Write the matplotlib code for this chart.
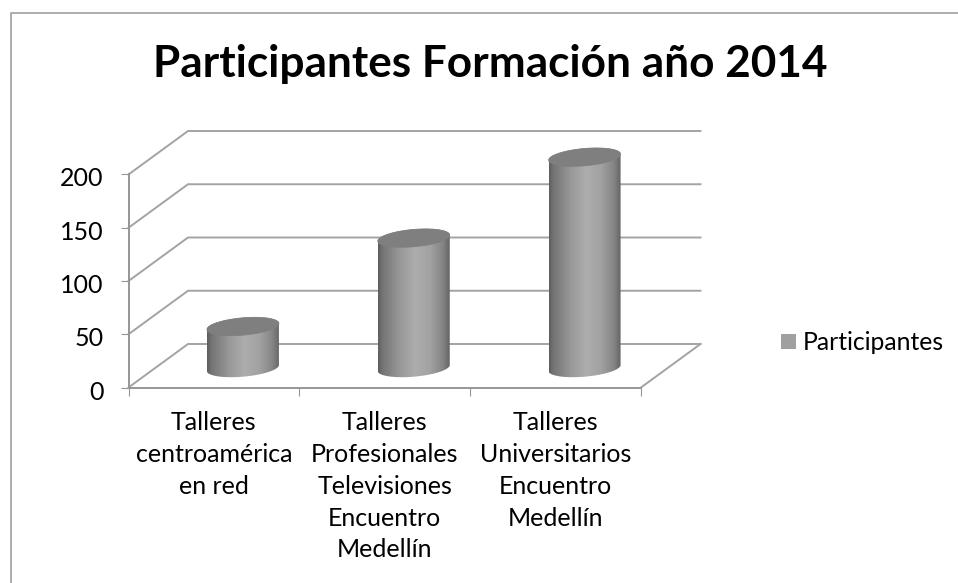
import numpy as np
import matplotlib
matplotlib.use('Agg')
import matplotlib.pyplot as plt
from matplotlib.colors import LinearSegmentedColormap
from matplotlib.lines import Line2D
from matplotlib.patches import PathPatch, Rectangle
from matplotlib.path import Path
from matplotlib.transforms import ScaledTranslation

plt.rcParams['font.family'] = ['Lato', 'DejaVu Sans']

# datos
categories = ['Talleres\ncentroamérica\nen red',
              'Talleres\nProfesionales\nTelevisiones\nEncuentro\nMedellín',
              'Talleres\nUniversitarios\nEncuentro\nMedellín']
participantes = [39, 122, 198]
y_ticks = [0, 50, 100, 150, 200]

W, H = 958, 583
fig = plt.figure(figsize=(W / 100, H / 100), dpi=100)

# marco del grafico (solo arriba e izquierda)
fig.add_artist(Line2D([10.5 / W, 10.5 / W, 1], [0, 1 - 12.5 / H, 1 - 12.5 / H],
                      transform=fig.transFigure, color='#a0a0a0', lw=1.2))

# plano frontal en pixeles
x0, x1, y0, y1 = 128.5, 641, 387.5, 174.5
ax = fig.add_axes([x0 / W, 1 - y0 / H, (x1 - x0) / W, (y0 - y1) / H])
ax.set_xlim(0, 3)
ax.set_ylim(0, 200)
ax.patch.set_alpha(0)

px_x = 3 / (x1 - x0)
px_y = 200 / (y0 - y1)
depth_x = 59.5 * px_x
depth_y = 43.5 * px_y

grid_c = '#a3a3a3'
for v in y_ticks:
    ax.plot([0, depth_x, 3 + depth_x], [v, v + depth_y, v + depth_y],
            color=grid_c, lw=1.4, clip_on=False, zorder=1, solid_joinstyle='miter')
ax.plot([3, 3 + depth_x], [0, depth_y], color=grid_c, lw=1.4, clip_on=False, zorder=1)

for s in ['top', 'right']:
    ax.spines[s].set_visible(False)
for s in ['left', 'bottom']:
    ax.spines[s].set_color('#969696')
    ax.spines[s].set_linewidth(1.4)
    ax.spines[s].set_zorder(1.5)

ax.set_yticks(y_ticks)
ax.set_xticks([0, 1, 2, 3])
ax.set_xticklabels([])
ax.tick_params(axis='both', length=5.5, width=0.8, color='#969696')
ax.tick_params(axis='y', labelsize=18, pad=12.5, labelcolor='black')
# las etiquetas quedan un poco por debajo de la marca
for lab in ax.get_yticklabels():
    lab.set_transform(lab.get_transform() + ScaledTranslation(0, -2.5 / 100, fig.dpi_scale_trans))

for i, c in enumerate(categories):
    ax.text(i + 0.5, -22.5, c, ha='center', va='top', fontsize=18, linespacing=1.46, clip_on=False)

# cilindros
cmap = LinearSegmentedColormap.from_list('cil', [
    (0, '#5e5e5e'), (0.06, '#747474'), (0.3, '#989898'), (0.52, '#adadad'),
    (0.72, '#a2a2a2'), (0.9, '#858585'), (1, '#646464')])
grad = np.linspace(0, 1, 256).reshape(1, -1)

half_w = 36 * px_x
half_h = 8.7 * px_y
tilt = 3 * px_y
base_y = 19.5 * px_y
shift_x = 29 * px_x


def ell(cx, cy, t):
    return cx + half_w * np.cos(t), cy + half_h * np.sin(t) + tilt * np.cos(t)


for i, v in enumerate(participantes):
    cx = i + 0.5 + shift_x
    t_low = np.linspace(np.pi, 2 * np.pi, 60)
    t_up = np.linspace(0, np.pi, 60)
    bx, by = ell(cx, base_y, t_low)
    tx, ty = ell(cx, base_y + v, t_up)
    body = Path(np.column_stack([np.r_[bx, tx], np.r_[by, ty]]))
    im = ax.imshow(grad, cmap=cmap, aspect='auto', zorder=3, vmin=0, vmax=1,
                   extent=[cx - half_w, cx + half_w, 0, base_y + v + half_h + tilt])
    patch = PathPatch(body, transform=ax.transData, fc='none', ec='none', clip_on=False)
    ax.add_patch(patch)
    # que el cilindro pueda salir del plano frontal
    im.set_clip_box(fig.bbox)
    im.set_clip_path(patch)
    t = np.linspace(0, 2 * np.pi, 120)
    ex, ey = ell(cx, base_y + v, t)
    ax.fill(ex, ey, color='#7f7f7f', zorder=4, clip_on=False, lw=0.5)

ax.set_xlim(0, 3)
ax.set_ylim(0, 200)

# titulo y leyenda
fig.text(490.5 / W, 1 - 77 / H, 'Participantes Formación año 2014', ha='center', va='baseline',
         fontsize=31.8, fontweight='bold', color='black')
fig.add_artist(Rectangle((781 / W, 1 - 349 / H), 15 / W, 15 / H, transform=fig.transFigure,
                         fc='#a0a0a0', ec='none'))
fig.text(803 / W, 1 - 350 / H, 'Participantes', ha='left', va='baseline', fontsize=17.8, color='black')

fig.savefig('out.png', dpi=100)
